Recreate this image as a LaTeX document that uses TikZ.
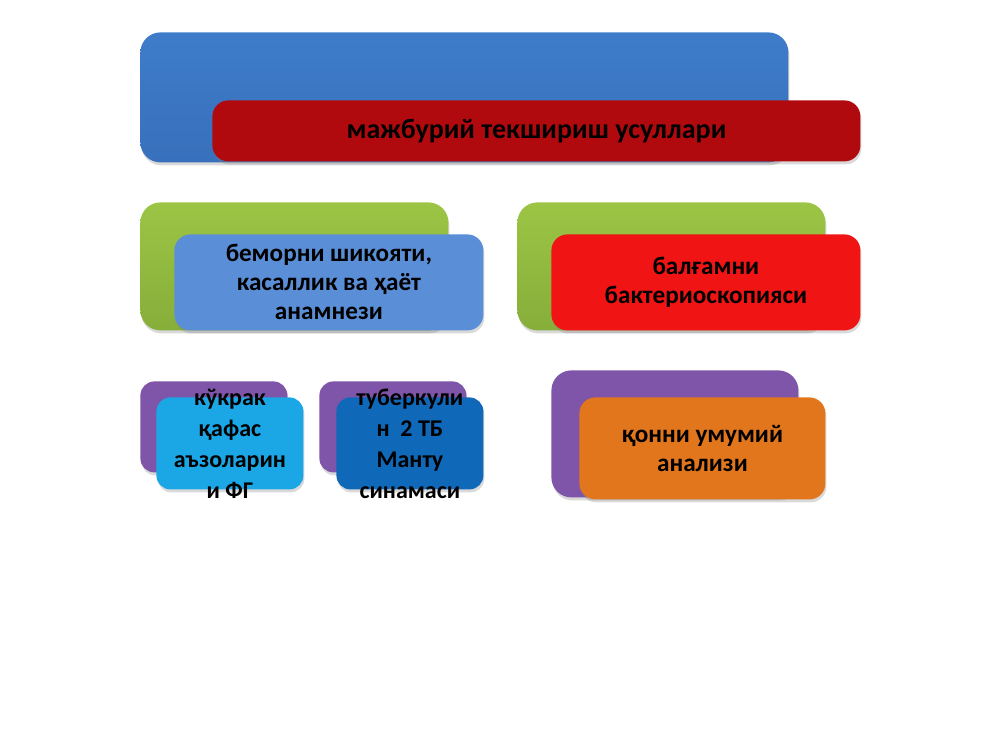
\documentclass[tikz,border=0pt]{standalone}
\usepackage{fontspec}
\setmainfont{Carlito}
\usetikzlibrary{positioning, shadows}
\definecolor{topblue}{HTML}{3E7CC9}
\definecolor{topbluedark}{HTML}{3870BC}
\definecolor{titlered}{HTML}{B00A0F}
\definecolor{leafgreen}{HTML}{9CC545}
\definecolor{leafgreendark}{HTML}{86AE3A}
\definecolor{anamblue}{HTML}{5A8ED6}
\definecolor{sputumred}{HTML}{F01414}
\definecolor{violet}{HTML}{7E55A8}
\definecolor{cyanbox}{HTML}{1BA7E6}
\definecolor{mantublue}{HTML}{1068B8}
\definecolor{bloodorange}{HTML}{E2761C}
\tikzset{
    backbox/.style={rectangle, rounded corners=10pt, anchor=north west, inner sep=0pt, drop shadow={shadow xshift=0.5pt, shadow yshift=-1.5pt, opacity=0.3}},
    smallback/.style={backbox, rounded corners=7pt, fill=violet, minimum width=73.5pt, minimum height=45.5pt},
    frontbox/.style={rectangle, rounded corners=8pt, inner sep=0pt, text centered, align=center, font=\bfseries\fontsize{12.6pt}{14.5pt}\selectfont, drop shadow={shadow xshift=0.5pt, shadow yshift=-1.5pt, opacity=0.3}},
    smallfront/.style={frontbox, rounded corners=7pt, minimum width=73.5pt, minimum height=46pt},
    boxlabel/.style={align=center, inner sep=0pt, font=\bfseries\fontsize{12pt}{15.5pt}\selectfont}
}
\begin{document}
\begin{tikzpicture}[x=0.5pt, y=-0.5pt]
    \useasboundingbox (0,0) rectangle (1000,750);
    % Title
    \node (top) [backbox, top color=topblue, bottom color=topbluedark, minimum width=324pt, minimum height=65pt] at (140,32) {};
    \node (title) [frontbox, fill=titlered, minimum width=324pt, minimum height=30.5pt, font=\bfseries\fontsize{14pt}{16pt}\selectfont, below right=34pt and 36pt of top.north west] {мажбурий текшириш усуллари};
    % Anamnesis
    \node (leftgreen) [backbox, top color=leafgreen, bottom color=leafgreendark, minimum width=154pt, minimum height=64pt] at (140,202) {};
    \node (anamnesis) [frontbox, fill=anamblue, minimum width=154.5pt, minimum height=48pt, below right=16pt and 17pt of leftgreen.north west] {беморни шикояти,\\касаллик ва ҳаёт\\анамнези};
    % Sputum
    \node (rightgreen) [backbox, top color=leafgreen, bottom color=leafgreendark, minimum width=154pt, minimum height=64pt] at (517,202) {};
    \node (sputum) [frontbox, fill=sputumred, minimum width=154.5pt, minimum height=48pt, below right=16pt and 17pt of rightgreen.north west] {балғамни\\бактериоскопияси};
    % Chest
    \node (chestback) [smallback] at (140,381) {};
    \node (chest) [smallfront, fill=cyanbox, below right=8pt and 8pt of chestback.north west] {};
    \node (chesttext) [boxlabel] at (chest.center) {кўкрак\\қафас\\аъзоларин\\и ФГ};
    % Mantoux
    \node (mantuback) [smallback] at (319,381) {};
    \node (mantu) [smallfront, fill=mantublue, below right=8pt and 8.5pt of mantuback.north west] {};
    \node (mantutext) [boxlabel] at (mantu.center) {туберкули\\н~~2 ТБ\\Манту\\синамаси};
    % Blood
    \node (bloodback) [backbox, fill=violet, minimum width=123.5pt, minimum height=63.5pt] at (551,370) {};
    \node (blood) [frontbox, fill=bloodorange, minimum width=123pt, minimum height=51pt, below right=13.5pt and 14pt of bloodback.north west] {қонни умумий\\анализи};
\end{tikzpicture}
\end{document}
